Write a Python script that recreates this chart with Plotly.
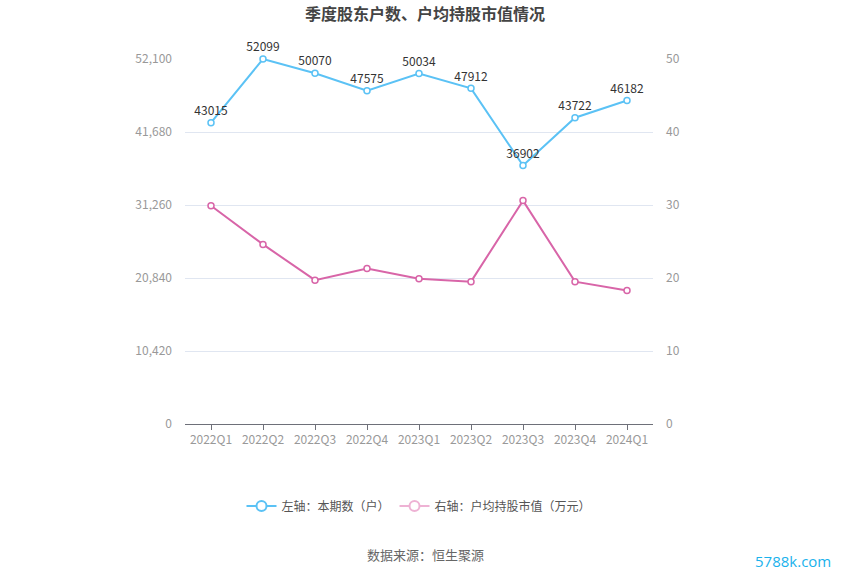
import plotly.graph_objects as go

quarters = ["2022Q1", "2022Q2", "2022Q3", "2022Q4", "2023Q1", "2023Q2", "2023Q3", "2023Q4", "2024Q1"]
holders = [43015, 52099, 50070, 47575, 50034, 47912, 36902, 43722, 46182]
avg_value = [29.9, 24.6, 19.7, 21.3, 19.9, 19.5, 30.6, 19.5, 18.3]
left_ticks = [0, 10420, 20840, 31260, 41680, 52100]
right_ticks = [0, 10, 20, 30, 40, 50]

BLUE = "#5bc2f5"
PINK = "#d865a8"
FONT = "Noto Sans CJK SC"

fig = go.Figure()
fig.add_trace(go.Scatter(
    x=quarters, y=holders, mode="lines+markers+text", yaxis="y",
    line=dict(color=BLUE, width=2),
    marker=dict(symbol="circle", size=6, color="white", line=dict(color=BLUE, width=1.5)),
    text=[str(v) for v in holders], textposition="top center",
    textfont=dict(color="#333333", size=12, family=FONT),
    showlegend=False, cliponaxis=False,
))
fig.add_trace(go.Scatter(
    x=quarters, y=avg_value, mode="lines+markers", yaxis="y2",
    line=dict(color=PINK, width=2),
    marker=dict(symbol="circle", size=6, color="white", line=dict(color=PINK, width=1.5)),
    showlegend=False, cliponaxis=False,
))
# legend entries
fig.add_trace(go.Scatter(
    x=[None], y=[None], mode="lines+markers", name="左轴：本期数（户）",
    line=dict(color=BLUE, width=2),
    marker=dict(symbol="circle", size=10, color="white", line=dict(color=BLUE, width=2)),
))
fig.add_trace(go.Scatter(
    x=[None], y=[None], mode="lines+markers", name="右轴：户均持股市值（万元）", yaxis="y2",
    line=dict(color="#eeb2d4", width=2),
    marker=dict(symbol="circle", size=10, color="white", line=dict(color="#eeb2d4", width=2)),
))

fig.update_layout(
    width=850, height=575,
    margin=dict(l=185, r=197, t=59, b=151),
    paper_bgcolor="white", plot_bgcolor="white",
    font=dict(family=FONT, color="#666666", size=12),
    title=dict(text="<b>季度股东户数、户均持股市值情况</b>", x=0.5, xanchor="center",
               y=1 - 14 / 575, yanchor="middle", yref="container",
               font=dict(size=16, color="#444444", family=FONT)),
    xaxis=dict(type="category", range=[-0.5, 8.5], showgrid=False,
               showline=True, linecolor="#6e7079", linewidth=1,
               ticks="outside", ticklen=5, tickcolor="#6e7079",
               tickfont=dict(color="#999999", size=12), zeroline=False),
    yaxis=dict(range=[0, 52100], tickvals=left_ticks, tickformat=",d",
               showgrid=True, gridcolor="#e0e6f1", gridwidth=1, zeroline=False,
               showline=False, ticks="", ticklabelstandoff=12,
               tickfont=dict(color="#999999", size=12)),
    yaxis2=dict(range=[0, 50], tickvals=right_ticks, overlaying="y", side="right",
                showgrid=False, zeroline=False, showline=False, ticks="",
                ticklabelstandoff=12,
                tickfont=dict(color="#999999", size=12)),
    legend=dict(orientation="h", x=0.5, xanchor="center", y=-82 / 365, yanchor="middle",
                font=dict(color="#555555", size=12), itemwidth=30, tracegroupgap=0),
    annotations=[
        dict(text="数据来源：恒生聚源", x=(425 - 185) / 468, xref="paper",
             y=-130 / 365, yref="paper", showarrow=False, xanchor="center", yanchor="middle",
             font=dict(size=13, color="#666666", family=FONT)),
        dict(text="5788k.com", x=(793 - 185) / 468, xref="paper",
             y=-137 / 365, yref="paper", showarrow=False, xanchor="center", yanchor="middle",
             font=dict(size=15, color="#1ab2ec", family="Open Sans")),
    ],
)

fig.write_html("out.html")
